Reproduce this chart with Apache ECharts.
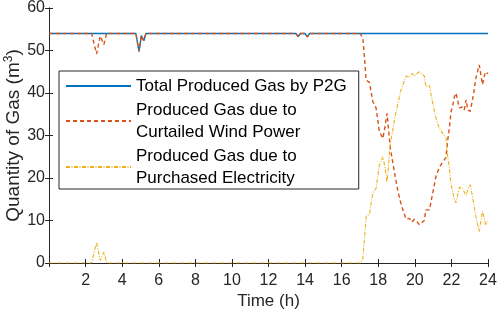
<!DOCTYPE html>
<html lang="en">

<head>
    <meta charset="UTF-8">
    <title>P2G gas</title>
    <style>
        html, body { margin: 0; padding: 0; background: #fff; }
    </style>
</head>

<body>
    <div id="main" style="width: 498px; height: 311px"></div>
    <script src="https://cdn.jsdelivr.net/npm/echarts@6/dist/echarts.min.js"></script>
    <script type="text/javascript">
        // time (h) of each sample
        var hours = [0, 2.33, 2.6, 2.8, 3.0, 3.15, 4.75, 4.92, 5.05, 5.18, 5.3, 13.5, 13.62, 13.75, 14.0, 14.12, 14.25,
            17.0, 17.16, 17.34, 17.52, 17.7, 17.88, 18.06, 18.25, 18.37, 18.48, 18.66, 18.88, 19.07, 19.25, 19.52,
            19.7, 19.85, 19.97, 20.1, 20.25, 20.34, 20.52, 20.6, 20.8, 20.98, 21.16, 21.34, 21.52, 21.7, 21.8,
            21.88, 21.98, 22.07, 22.16, 22.25, 22.33, 22.43, 22.6, 22.7, 22.8, 22.9, 23.03, 23.2, 23.34, 23.52,
            23.7, 23.8, 23.88, 24];
        var totalGas = [54, 54, 54, 54, 54, 54, 54, 49.8, 53.5, 52.3, 54, 54, 53.3, 54, 54, 53.2, 54,
            54, 54, 54, 54, 54, 54, 54, 54, 54, 54, 54, 54, 54, 54, 54,
            54, 54, 54, 54, 54, 54, 54, 54, 54, 54, 54, 54, 54, 54, 54,
            54, 54, 54, 54, 54, 54, 54, 54, 54, 54, 54, 54, 54, 54, 54,
            54, 54, 54, 54];
        var windGas = [54, 54, 49.2, 53.4, 51.4, 54, 54, 49.8, 53.5, 52.3, 54, 54, 53.3, 54, 54, 53.2, 54,
            54, 53, 43, 42.5, 38, 36.5, 31, 29.3, 32, 35.2, 27, 21.5, 17, 13.8, 10.3,
            10.5, 9.6, 10.3, 9.8, 9, 8.7, 10, 12.5, 12.5, 16.5, 20.5, 22.5, 23.8, 24.8, 29,
            31.5, 35.6, 37, 39.1, 40, 39.8, 36.5, 36.7, 36, 38.4, 36, 35.7, 39.5, 43.5, 46.6,
            42, 44, 45, 44.5];
        var boughtGas = [0, 0, 4.8, 0.6, 2.6, 0, 0, 0, 0, 0, 0, 0, 0, 0, 0, 0, 0,
            0, 1, 11, 11.5, 16.5, 17.5, 23, 25, 22.5, 19, 28, 33.5, 37.5, 40.8, 44,
            43.7, 44.6, 44, 44.5, 45, 45.2, 44, 41.5, 41.8, 37.5, 34, 31.7, 30.5, 29.5, 25,
            22.5, 18.5, 16.8, 15, 14.2, 14.2, 17.8, 17.6, 17.9, 15.8, 17.5, 18.4, 14.5, 10.8, 7.4,
            12.2, 10.5, 8.9, 9.8];
        var xTicks = [0, 24, 2];
        var yTicks = [0, 60, 10];

        function pairs(vals) {
            return hours.map(function (h, i) { return [h, vals[i]]; });
        }

        var myChart = echarts.init(document.getElementById('main'));
        var ink = '#262626';
        var font = 'Liberation Sans, Arial, sans-serif';

        var option = {
            animation: false,
            textStyle: { fontFamily: font },
            grid: { left: 49, right: 10, top: 8, bottom: 48, outerBoundsMode: 'none', containLabel: false },
            legend: {
                orient: 'vertical',
                left: 59,
                top: 71,
                padding: [4, 12, 0, 6],
                itemGap: 2,
                itemWidth: 65,
                itemHeight: 10,
                itemStyle: { opacity: 0 },
                backgroundColor: '#fff',
                borderColor: ink,
                borderWidth: 1,
                borderRadius: 0,
                textStyle: { fontSize: 17, lineHeight: 22, color: '#000', fontFamily: font }
            },
            xAxis: [{
                type: 'value',
                min: xTicks[0], max: xTicks[1], interval: xTicks[2],
                name: 'Time (h)',
                nameLocation: 'middle',
                nameGap: 30,
                nameMoveOverlap: false,
                nameTextStyle: { fontSize: 17, color: ink },
                axisLine: { lineStyle: { color: ink } },
                axisTick: { inside: true, length: 4, lineStyle: { color: ink } },
                axisLabel: {
                    fontSize: 16, color: ink, margin: 10,
                    formatter: function (v) { return v === 0 ? '' : v; }
                },
                splitLine: { show: false }
            }, {
                type: 'value', position: 'top',
                min: xTicks[0], max: xTicks[1], interval: xTicks[2],
                axisLine: { lineStyle: { color: ink } },
                axisTick: { inside: true, length: 4, lineStyle: { color: ink } },
                axisLabel: { show: false },
                splitLine: { show: false }
            }],
            yAxis: [{
                type: 'value',
                min: yTicks[0], max: yTicks[1], interval: yTicks[2],
                name: 'Quantity of Gas (m{sup|3})',
                nameLocation: 'middle',
                nameGap: 24,
                nameMoveOverlap: false,
                nameTextStyle: {
                    fontSize: 19, color: ink,
                    rich: { sup: { fontSize: 12, color: ink, padding: [0, 0, 10, 0] } }
                },
                axisLine: { show: true, lineStyle: { color: ink } },
                axisTick: { show: true, inside: true, length: 4, lineStyle: { color: ink } },
                axisLabel: { fontSize: 16, color: ink, margin: 4 },
                splitLine: { show: false }
            }, {
                type: 'value', position: 'right',
                min: yTicks[0], max: yTicks[1], interval: yTicks[2],
                axisLine: { show: true, lineStyle: { color: ink } },
                axisTick: { show: true, inside: true, length: 4, lineStyle: { color: ink } },
                axisLabel: { show: false },
                splitLine: { show: false }
            }],
            series: [{
                name: 'Total Produced Gas by P2G',
                type: 'line',
                symbol: 'none',
                data: pairs(totalGas),
                color: '#0072BD',
                lineStyle: { width: 1.4, color: '#0072BD' }
            }, {
                name: 'Produced Gas due to\nCurtailed Wind Power',
                type: 'line',
                symbol: 'none',
                data: pairs(windGas),
                color: '#D95319',
                lineStyle: { width: 1.4, color: '#D95319', type: [4, 3] }
            }, {
                name: 'Produced Gas due to\nPurchased Electricity',
                type: 'line',
                symbol: 'none',
                data: pairs(boughtGas),
                color: '#EDB120',
                lineStyle: { width: 1.1, color: '#EDB120', type: [4, 1.5, 1, 1.5] }
            }]
        };
        myChart.setOption(option);
    </script>

</body>

</html>
